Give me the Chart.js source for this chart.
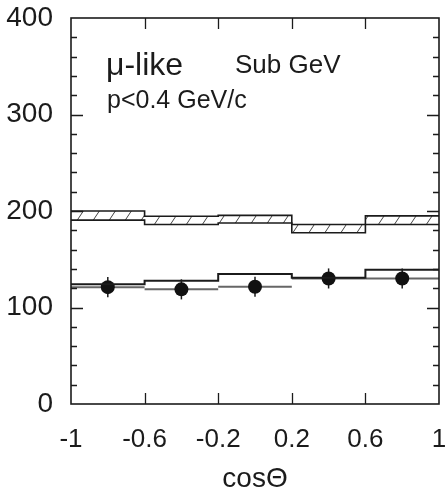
<!DOCTYPE html>
<html><head><meta charset="utf-8">
<script src="https://cdn.jsdelivr.net/npm/chart.js@4"></script>
<style>html,body{margin:0;padding:0;background:#fff}#c{display:block}</style>
</head><body>
<canvas id="c" width="447" height="496"></canvas>
<script>
// ---- data ----
const binEdges = [-1, -0.6, -0.2, 0.2, 0.6, 1];
const xTickLabels = ['-1', '-0.6', '-0.2', '0.2', '0.6', '1'];
const yTickValues = [0, 100, 200, 300, 400];
const yTickLabels = ['0', '100', '200', '300', '400'];
const noOscTop = [200, 194.5, 195.5, 186, 195];
const noOscBottom = [190.5, 186, 187.5, 177.5, 186];
const bestFit = [124.2, 127.7, 134.6, 130.8, 139];
const dataX = [-0.8, -0.4, 0, 0.4, 0.8];
const dataY = [121.1, 118.8, 121.5, 130.1, 130.1];
const dataErrY = [10.4, 10.4, 10.4, 10.4, 10.4];
const dataErrX = [0.2, 0.2, 0.2, 0.2, 0.2];

const FONT = '"Liberation Sans", Arial, Helvetica, sans-serif';
const INK = '#1b1b1b';

function stepPoints(vals) {
  return binEdges.map((x, i) => ({ x: x, y: vals[Math.min(i, vals.length - 1)] }));
}

// hatch pattern "/"
function makeHatch() {
  const w = 16, h = 24;
  const c = document.createElement('canvas');
  c.width = w; c.height = h;
  const g = c.getContext('2d');
  g.strokeStyle = '#444';
  g.lineWidth = 1;
  for (const a of [-w, 0, w]) {
    g.beginPath();
    g.moveTo(a, h);
    g.lineTo(a + w, 0);
    g.stroke();
  }
  return g.createPattern(c, 'repeat');
}

const framePlugin = {
  id: 'frame',
  beforeDatasetsDraw(chart) {
    const ctx = chart.ctx, xs = chart.scales.x, ys = chart.scales.y;
    ctx.save();
    for (let i = 0; i < dataX.length; i++) {
      const py = ys.getPixelForValue(dataY[i]);
      ctx.strokeStyle = '#666';
      ctx.lineWidth = 2;
      ctx.beginPath();
      ctx.moveTo(xs.getPixelForValue(dataX[i] - dataErrX[i]), py);
      ctx.lineTo(xs.getPixelForValue(dataX[i] + dataErrX[i]), py);
      ctx.stroke();
      const px = xs.getPixelForValue(dataX[i]);
      ctx.strokeStyle = INK;
      ctx.lineWidth = 1.5;
      ctx.beginPath();
      ctx.moveTo(px, ys.getPixelForValue(dataY[i] - dataErrY[i]));
      ctx.lineTo(px, ys.getPixelForValue(dataY[i] + dataErrY[i]));
      ctx.stroke();
    }
    ctx.restore();
  },
  afterDraw(chart) {
    const ctx = chart.ctx, a = chart.chartArea;
    const xs = chart.scales.x, ys = chart.scales.y;
    ctx.save();
    ctx.strokeStyle = INK;
    ctx.lineWidth = 1.6;
    ctx.strokeRect(a.left, a.top, a.right - a.left, a.bottom - a.top);
    ctx.lineWidth = 1.3;
    ctx.beginPath();
    for (let v = 20; v < 400; v += 20) {
      const y = Math.round(ys.getPixelForValue(v)) + 0.5;
      const len = (v % 100 === 0) ? 12 : 6;
      ctx.moveTo(a.left, y); ctx.lineTo(a.left + len, y);
      ctx.moveTo(a.right, y); ctx.lineTo(a.right - len, y);
    }
    for (let i = 1; i < binEdges.length - 1; i++) {
      const x = Math.round(xs.getPixelForValue(binEdges[i])) + 0.5;
      ctx.moveTo(x, a.bottom); ctx.lineTo(x, a.bottom - 11);
      ctx.moveTo(x, a.top); ctx.lineTo(x, a.top + 11);
    }
    ctx.stroke();
    ctx.fillStyle = INK;
    ctx.textBaseline = 'alphabetic';
    ctx.textAlign = 'left';
    ctx.font = '32px ' + FONT;
    ctx.fillText('\u03bc-like', 106, 75);
    ctx.font = '26px ' + FONT;
    ctx.fillText('Sub GeV', 235, 73);
    ctx.font = '25px ' + FONT;
    ctx.fillText('p<0.4 GeV/c', 107, 108);
    ctx.restore();
  }
};

new Chart(document.getElementById('c'), {
  type: 'line',
  data: {
    datasets: [
      { data: stepPoints(noOscTop), stepped: true, borderColor: INK, borderWidth: 1.6, pointRadius: 0, fill: false },
      { data: stepPoints(noOscBottom), stepped: true, borderColor: INK, borderWidth: 1.6, pointRadius: 0, fill: '-1', backgroundColor: makeHatch() },
      { data: stepPoints(bestFit), stepped: true, borderColor: INK, borderWidth: 2, pointRadius: 0, fill: false },
      { data: dataX.map((x, i) => ({ x: x, y: dataY[i] })), showLine: false, pointRadius: 7, pointBackgroundColor: '#111', pointBorderColor: '#111', pointBorderWidth: 0, fill: false }
    ]
  },
  options: {
    responsive: false,
    animation: false,
    devicePixelRatio: 1,
    layout: { padding: { left: 0, right: 8, top: 18, bottom: 0 } },
    plugins: { legend: { display: false }, tooltip: { enabled: false } },
    scales: {
      x: {
        type: 'linear', min: -1, max: 1,
        grid: { display: false, drawTicks: false },
        border: { display: false },
        afterBuildTicks(s) { s.ticks = binEdges.map(v => ({ value: v })); },
        afterFit(s) { s.height = 92; s.paddingLeft = 0; s.paddingRight = 0; },
        ticks: {
          color: INK, font: { family: FONT, size: 26 }, padding: 20, maxRotation: 0, autoSkip: false,
          callback(v) { const i = binEdges.indexOf(v); return i >= 0 ? xTickLabels[i] : ''; }
        },
        title: { display: true, text: 'cos\u0398', color: INK, font: { family: FONT, size: 28 }, padding: 0 }
      },
      y: {
        min: 0, max: 400,
        grid: { display: false, drawTicks: false },
        border: { display: false },
        afterBuildTicks(s) { s.ticks = yTickValues.map(v => ({ value: v })); },
        afterFit(s) { s.width = 71; s.paddingTop = 0; s.paddingBottom = 0; },
        ticks: {
          color: INK, font: { family: FONT, size: 28 }, padding: 18,
          callback(v) { const i = yTickValues.indexOf(v); return i >= 0 ? yTickLabels[i] : ''; }
        }
      }
    }
  },
  plugins: [framePlugin]
});
</script>
</body></html>
